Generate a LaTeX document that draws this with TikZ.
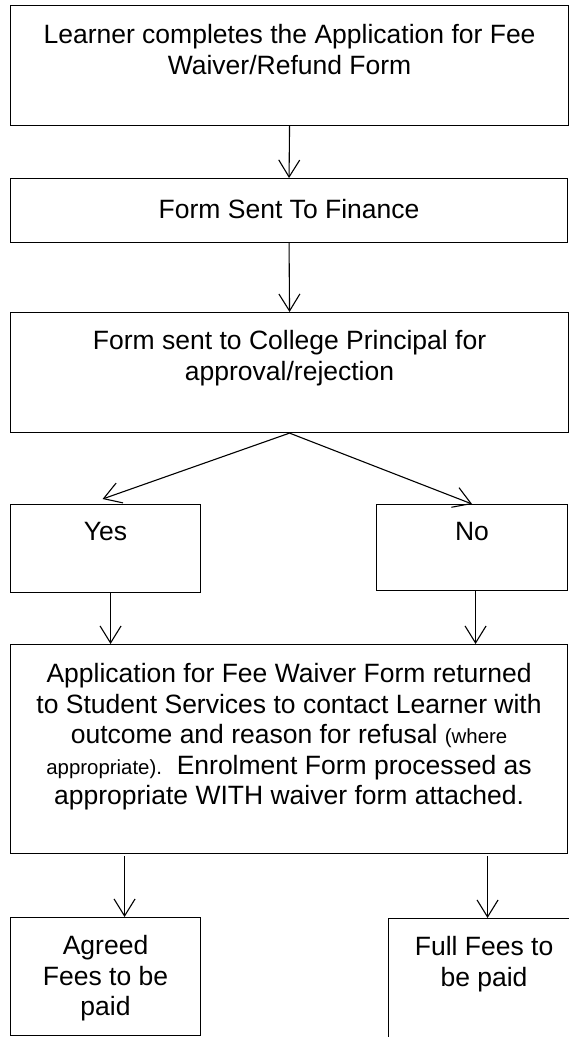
\documentclass[tikz,border=0pt]{standalone}
\usepackage{fontspec}
\setmainfont{Liberation Sans}
\usetikzlibrary{arrows.meta,positioning,calc}

\tikzset{
  stepbox/.style={draw, line width=1.1pt, anchor=north west, inner sep=0pt},
  flow/.style={-{Straight Barb[length=17pt,width=21pt,line width=1.1pt]}, line width=1.1pt},
}

\begin{document}
\begin{tikzpicture}[x=1pt, y=-1pt, font=\fontsize{26.5}{30.5}\selectfont]
    \useasboundingbox (0,0) rectangle (569,1037);
    \clip (0,0) rectangle (569,1037);

    % Main steps
    \node[stepbox] (learner) at (10,5) {\parbox[c][120pt][t]{558pt}{\centering\vspace*{17pt}\strut Learner completes the Application for Fee\\ Waiver/Refund Form}};
    \node[stepbox] (finance) at (10,178) {\parbox[c][64pt][t]{557pt}{\centering\vspace*{19pt}\strut Form Sent To Finance}};
    \node[stepbox] (principal) at (10,312) {\parbox[c][120pt][t]{558pt}{\centering\vspace*{16pt}\strut Form sent to College Principal for\\ approval/rejection}};

    % Decision
    \node[stepbox] (yes) at (10,504) {\parbox[c][88pt][t]{190pt}{\centering\vspace*{15pt}\strut Yes}};
    \node[stepbox] (no) at (376,504) {\parbox[c][86pt][t]{191pt}{\centering\vspace*{15pt}\strut No}};

    % Outcome
    \node[stepbox] (returned) at (10,644) {\parbox[c][209pt][t]{557pt}{\centering\vspace*{17pt}\strut Application for Fee Waiver Form returned\\ to Student Services to contact Learner with\\ outcome and reason for refusal {\fontsize{20.4}{30.5}\selectfont (where}\\ {\fontsize{20.4}{30.5}\selectfont appropriate).}\ \ Enrolment Form processed as\\ appropriate WITH waiver form attached.}};
    \node[stepbox] (agreed) at (10,917) {\parbox[c][118pt][t]{190pt}{\centering\vspace*{16pt}\strut Agreed\\ Fees to be\\ paid}};
    \node[stepbox] (full) at (388,918) {\parbox[c][130pt][t]{191pt}{\centering\vspace*{16pt}\strut Full Fees to\\ be paid}};

    % Arrows
    \draw[flow] (learner.south) -- (finance.north);
    \draw[flow] (finance.south) -- (principal.north);
    \draw[flow] (principal.south) -- ([xshift=-3pt,yshift=5pt]yes.north);
    \draw[flow] (principal.south) -- (no.north);
    \draw[flow] ([xshift=5pt]yes.south) -- ([xshift=5pt]yes.south |- returned.north);
    \draw[flow] ([xshift=3.5pt]no.south) -- ([xshift=3.5pt]no.south |- returned.north);
    \draw[flow] ([xshift=19pt,yshift=-2pt]agreed.north |- returned.south) -- ([xshift=19pt]agreed.north);
    \draw[flow] ([xshift=3.5pt,yshift=-2pt]full.north |- returned.south) -- ([xshift=3.5pt]full.north);
\end{tikzpicture}
\end{document}
